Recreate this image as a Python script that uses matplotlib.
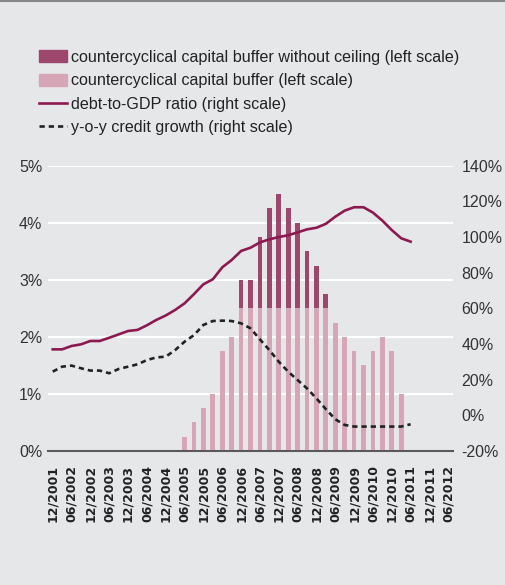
import numpy as np
import matplotlib
matplotlib.use("Agg")
import matplotlib.pyplot as plt
from matplotlib.patches import Patch
from matplotlib.lines import Line2D

plt.rcParams['font.family'] = ['Liberation Sans', 'DejaVu Sans']

# quarters 12/2001 ... 06/2012
quarters = ['12/2001', '03/2002', '06/2002', '09/2002', '12/2002', '03/2003', '06/2003', '09/2003',
            '12/2003', '03/2004', '06/2004', '09/2004', '12/2004', '03/2005', '06/2005', '09/2005',
            '12/2005', '03/2006', '06/2006', '09/2006', '12/2006', '03/2007', '06/2007', '09/2007',
            '12/2007', '03/2008', '06/2008', '09/2008', '12/2008', '03/2009', '06/2009', '09/2009',
            '12/2009', '03/2010', '06/2010', '09/2010', '12/2010', '03/2011', '06/2011', '09/2011',
            '12/2011', '03/2012', '06/2012']
tick_labels = quarters[::2]

# buffer bars, 06/2005 .. 03/2011 (left scale, %)
bar_quarters = quarters[14:38]
buffer_no_ceiling = [0.25, 0.5, 0.75, 1.0, 1.75, 2.0, 3.0, 3.0, 3.75, 4.25, 4.5, 4.25,
                     4.0, 3.5, 3.25, 2.75, 2.25, 2.0, 1.75, 1.5, 1.75, 2.0, 1.75, 1.0]
buffer = [0.25, 0.5, 0.75, 1.0, 1.75, 2.0, 2.5, 2.5, 2.5, 2.5, 2.5, 2.5,
          2.5, 2.5, 2.5, 2.5, 2.25, 2.0, 1.75, 1.5, 1.75, 2.0, 1.75, 1.0]

# lines, 12/2001 .. 06/2011 (right scale, %)
line_quarters = quarters[:39]
debt_gdp = [37.0, 37.0, 38.9, 39.8, 41.7, 41.7, 43.5, 45.4, 47.3, 47.9, 50.5, 53.5, 56.0,
            59.1, 62.8, 68.0, 73.5, 76.3, 83.0, 87.1, 92.2, 94.0, 97.0, 98.7, 100.0, 101.0,
            102.6, 104.3, 105.2, 107.4, 111.4, 114.8, 116.7, 116.7, 113.7, 109.2, 103.9, 99.3, 97.4]
credit_growth = [24.5, 27.3, 27.9, 26.4, 25.1, 25.1, 23.6, 26.0, 27.3, 28.6, 31.0, 32.5, 32.9,
                 36.6, 41.3, 45.0, 50.7, 52.9, 53.1, 52.9, 51.6, 48.8, 42.6, 36.6, 30.1, 24.5,
                 19.8, 15.1, 9.5, 3.5, -2.2, -5.4, -6.3, -6.3, -6.3, -6.3, -6.3, -6.3, -5.0]

bg = '#e6e7e9'
c_dark = '#9e476c'
c_light = '#d6a6b7'
c_debt = '#8c1a50'
c_text = '#222222'
dash = (0, (2.0, 1.5))

fig = plt.figure(figsize=(5.05, 5.85), dpi=100, facecolor=bg)
ax = fig.add_axes([48/505, 1-451/585, 405/505, (451-165.7)/585])
ax.set_facecolor(bg)

pos = {q: i for i, q in enumerate(quarters)}
xb = [pos[q] for q in bar_quarters]
xl = [pos[q] for q in line_quarters]

ax.bar(xb, buffer_no_ceiling, width=0.5, color=c_dark, zorder=3)
ax.bar(xb, buffer, width=0.5, color=c_light, zorder=4)

ax.set_xlim(-0.5, len(quarters) - 0.5)
ax.set_ylim(0, 5)
ax.set_yticks(np.arange(0, 6, 1))
ax.set_yticklabels(['%d%%' % v for v in range(6)])
ax.set_xticks(range(0, len(quarters), 2))
ax.set_xticklabels(tick_labels, rotation=90, fontsize=9, color=c_text,
                   family='DejaVu Sans', fontweight='bold')
ax.tick_params(axis='y', length=0, pad=4, labelsize=11.5, labelcolor='#333333')
ax.tick_params(axis='x', length=0, pad=10)
ax.grid(axis='y', color='white', linewidth=1.5, zorder=0)
ax.set_axisbelow(True)
for s in ['top', 'right', 'left']:
    ax.spines[s].set_visible(False)
ax.spines['bottom'].set_color('#5a5a5a')
ax.spines['bottom'].set_linewidth(1.5)
ax.spines['bottom'].set_zorder(5)

ax2 = ax.twinx()
ax2.plot(xl, debt_gdp, color=c_debt, linewidth=1.9, zorder=6)
ax2.plot(xl, credit_growth, color='#222222', linewidth=1.9, linestyle=dash, zorder=6)
ax2.set_ylim(-20, 140)
ax2.set_yticks(np.arange(-20, 141, 20))
ax2.set_yticklabels(['%d%%' % v for v in range(-20, 141, 20)])
ax2.tick_params(axis='y', length=0, pad=6, labelsize=11.5, labelcolor='#333333')
for s in ax2.spines.values():
    s.set_visible(False)

handles = [Patch(color=c_dark), Patch(color=c_light),
           Line2D([], [], color=c_debt, linewidth=1.9),
           Line2D([], [], color='#222222', linewidth=1.9, linestyle=dash)]
labels = ['countercyclical capital buffer without ceiling (left scale)',
          'countercyclical capital buffer (left scale)',
          'debt-to-GDP ratio (right scale)',
          'y-o-y credit growth (right scale)']
fig.legend(handles, labels, loc='upper left', bbox_to_anchor=(39/505, 1-50/585),
           frameon=False, fontsize=11.6, handlelength=1.75, handleheight=0.75,
           handletextpad=0.25, labelspacing=0.52, borderaxespad=0, borderpad=0,
           labelcolor=c_text)

fig.add_artist(Line2D([0, 1], [0.998, 0.998], color='#888888', linewidth=1.5,
                      transform=fig.transFigure))

fig.savefig('out.png', dpi=100, facecolor=bg)
